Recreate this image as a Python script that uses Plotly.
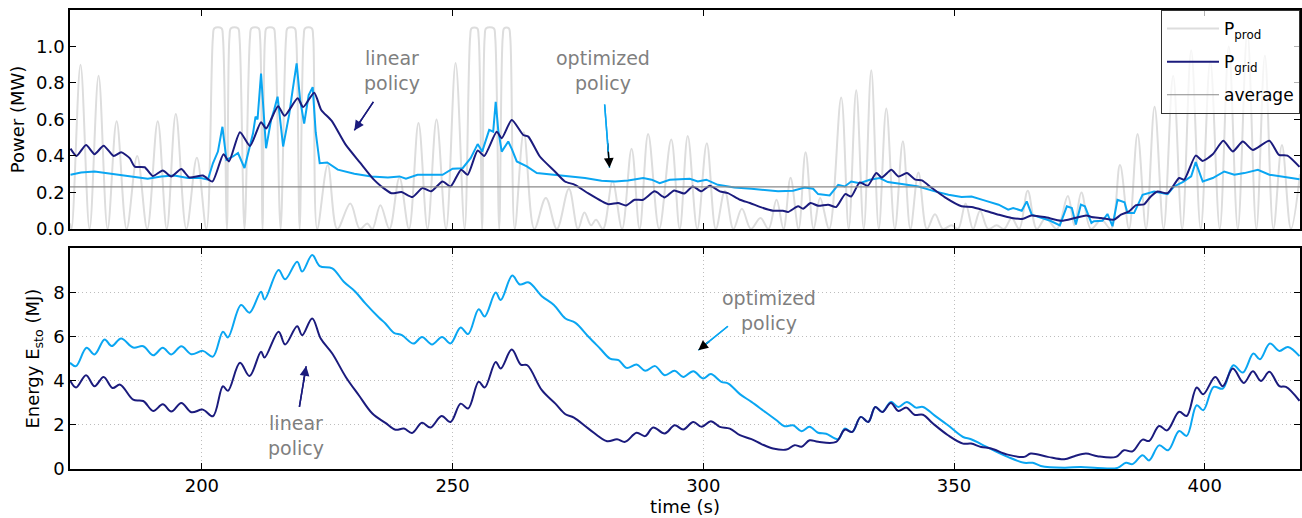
import plotly.graph_objects as go

# ---------------- data ----------------
# Produced power P_prod (MW): peaks / troughs / plateau edges
t_prod = [173.7, 174.0, 175.8, 177.6, 179.4, 181.2, 183.0, 185.0, 187.1, 189.1, 191.2, 193.0, 194.8, 196.9, 199.0, 200.9,
          202.2, 202.5, 203.9, 204.2, 205.0, 205.5, 205.8, 207.2, 207.5, 208.5, 209.6, 209.9, 211.3, 211.6, 212.1,
          212.6, 212.9, 214.3, 214.6, 215.7, 216.8, 217.1, 218.5, 218.8, 219.5, 220.3, 220.6, 221.9, 222.2, 223.0,
          225.1, 227.0, 229.6, 231.5, 233.0, 234.0, 235.6, 237.4, 239.4, 241.3, 243.2, 245.0, 246.8, 248.7, 250.6, 252.4,
          253.5, 253.8, 254.9, 255.2, 255.9, 256.4, 256.7, 258.2, 258.5, 259.3, 260.0, 260.3, 261.2, 261.5, 262.4,
          264.2, 266.3, 268.6, 270.8, 273.2, 275.0, 276.3, 277.6, 278.6, 280.0, 281.9, 283.8, 285.7, 287.3, 289.0,
          291.2, 293.6, 295.3, 296.9, 298.8, 300.7, 302.5, 304.3, 306.0, 307.7, 309.5, 311.4, 313.0, 314.6, 316.0,
          317.4, 319.0, 320.4, 322.0, 323.3, 325.1, 327.5, 329.0, 330.5, 332.0, 333.5, 335.0, 336.5, 338.2, 339.8,
          341.3, 342.9, 344.6, 346.2, 347.8, 349.5, 350.8, 352.3, 353.8, 355.2, 356.8, 358.5, 360.0, 361.5, 363.0,
          364.7, 366.5, 368.3, 370.5, 372.7, 374.0, 375.4, 377.3, 379.4, 381.3, 383.1, 384.9, 386.6, 388.3, 390.0,
          391.8, 393.7, 395.5, 397.3, 399.2, 401.1, 403.0, 404.8, 406.6, 408.5, 410.3, 412.0, 413.7, 415.4, 417.2, 419.0]
p_prod = [0.03, 0.0, 0.90, 0.0, 0.84, 0.0, 0.59, 0.0, 0.40, 0.0, 0.59, 0.0, 0.63, 0.0, 0.39, 0.0,
          1.05, 1.1, 1.1, 1.05, 0.0, 1.05, 1.1, 1.1, 1.05, 0.0, 1.05, 1.1, 1.1, 1.05, 0.0,
          1.05, 1.1, 1.1, 1.05, 0.0, 1.05, 1.1, 1.1, 1.05, 0.0, 1.05, 1.1, 1.1, 1.05, 0.0,
          0.35, 0.0, 0.14, 0.0, 0.03, 0.0, 0.13, 0.0, 0.28, 0.0, 0.58, 0.0, 0.60, 0.0, 0.91, 0.0,
          1.05, 1.1, 1.1, 1.05, 0.0, 1.05, 1.1, 1.1, 1.05, 0.0, 1.05, 1.1, 1.1, 1.05, 0.0,
          0.53, 0.0, 0.17, 0.0, 0.22, 0.0, 0.09, 0.02, 0.05, 0.0, 0.26, 0.0, 0.44, 0.0, 0.52,
          0.0, 0.49, 0.0, 0.51, 0.0, 0.47, 0.0, 0.21, 0.0, 0.11, 0.0, 0.06, 0.0, 0.16, 0.0,
          0.28, 0.0, 0.42, 0.0, 0.17, 0.0, 0.72, 0.0, 0.76, 0.0, 0.87, 0.0, 0.66, 0.0, 0.48,
          0.0, 0.31, 0.0, 0.08, 0.0, 0.02, 0.0, 0.14, 0.0, 0.10, 0.0, 0.02, 0.0, 0.06, 0.0,
          0.21, 0.0, 0.06, 0.0, 0.18, 0.02, 0.20, 0.0, 0.05, 0.0, 0.35, 0.0, 0.52, 0.0, 0.67,
          0.0, 0.84, 0.0, 0.98, 0.0, 0.92, 0.0, 1.0, 0.0, 1.08, 0.0, 0.95, 0.0, 0.46, 0.0, 0.30]

average_power = 0.231

# Grid power, linear policy (MW)
t_lin_pow = [173.8, 175.0, 176.9, 178.6, 180.4, 182.4, 183.9, 185.6, 186.6, 188.6, 190.2, 192.2, 193.9, 195.9, 197.5,
             200.2, 202.1, 204.3, 205.4, 207.6, 209.6, 211.8, 212.8, 215.2, 216.5, 219.1, 220.2, 222.4, 223.8, 225.9,
             228.6, 231.5, 234.3, 235.8, 237.8, 239.8, 242.0, 244.0, 245.7, 248.0, 249.6, 251.7, 253.0, 255.0, 256.3,
             258.8, 259.8, 261.8, 264.1, 265.1, 267.4, 270.4, 272.4, 274.4, 277.0, 281.0, 283.0, 284.6, 286.3, 288.0,
             290.3, 292.3, 294.2, 296.2, 297.9, 299.6, 301.3, 303.3, 304.9, 307.3, 309.3, 311.6, 313.9, 315.9, 316.9,
             318.9, 319.9, 321.4, 322.9, 324.9, 326.5, 328.3, 329.5, 331.2, 332.8, 334.5, 335.6, 337.5, 338.9, 340.6,
             342.3, 343.6, 345.6, 348.2, 351.5, 353.5, 356.2, 358.9, 361.5, 363.8, 365.4, 368.1, 371.4, 374.1, 376.4,
             377.4, 379.3, 381.9, 383.3, 384.9, 386.3, 387.9, 389.2, 390.6, 392.6, 394.9, 395.9, 398.2, 399.6, 401.6,
             403.7, 405.6, 407.6, 409.6, 412.9, 414.8, 416.5, 418.9]
p_lin = [0.44, 0.40, 0.46, 0.41, 0.456, 0.40, 0.42, 0.388, 0.342, 0.338, 0.29, 0.32, 0.288, 0.328, 0.282,
         0.293, 0.26, 0.41, 0.37, 0.53, 0.455, 0.585, 0.55, 0.672, 0.62, 0.716, 0.668, 0.747, 0.652, 0.592,
         0.465, 0.365, 0.27, 0.233, 0.196, 0.202, 0.175, 0.224, 0.206, 0.26, 0.233, 0.325, 0.297, 0.43, 0.40,
         0.533, 0.497, 0.597, 0.515, 0.506, 0.397, 0.315, 0.26, 0.242, 0.196, 0.136, 0.142, 0.129, 0.16, 0.16,
         0.206, 0.173, 0.211, 0.194, 0.233, 0.206, 0.237, 0.206, 0.196, 0.16, 0.142, 0.118, 0.10, 0.10, 0.093,
         0.124, 0.111, 0.142, 0.127, 0.133, 0.12, 0.191, 0.178, 0.255, 0.237, 0.306, 0.282, 0.324, 0.288, 0.306,
         0.27, 0.266, 0.224, 0.173, 0.124, 0.12, 0.10, 0.078, 0.06, 0.056, 0.074, 0.065, 0.045, 0.06, 0.074,
         0.066, 0.06, 0.051, 0.078, 0.096, 0.131, 0.135, 0.177, 0.205, 0.196, 0.279, 0.27, 0.402, 0.373, 0.409,
         0.483, 0.425, 0.479, 0.433, 0.483, 0.406, 0.402, 0.34]

# Grid power, optimized policy (MW)
t_opt_pow = [173.8, 175.9, 178.6, 181.9, 184.2, 186.6, 189.2, 191.9, 194.5, 197.2, 199.8, 201.2, 202.2, 203.2, 204.1,
             204.9, 206.2, 207.2, 208.5, 210.2, 210.7, 211.1, 211.8, 212.8, 213.8, 214.4, 215.1, 216.2, 217.4, 218.1,
             218.9, 219.6, 220.4, 221.3, 222.1, 222.7, 223.5, 225.0, 227.1, 230.4, 233.8, 237.1, 239.4, 240.7, 243.0,
             245.7, 248.0, 250.0, 252.0, 253.6, 255.0, 255.9, 257.3, 258.1, 258.6, 259.1, 259.8, 261.1, 261.8, 262.8,
             264.8, 266.8, 269.7, 273.1, 276.4, 279.7, 282.4, 285.0, 288.0, 289.7, 291.3, 293.3, 296.2, 297.3, 298.9,
             300.6, 302.9, 306.2, 309.6, 312.5, 314.9, 317.9, 320.2, 321.9, 322.9, 325.2, 326.9, 328.2, 329.5, 331.2,
             333.2, 335.2, 336.8, 339.6, 342.9, 346.2, 348.9, 351.5, 353.5, 356.2, 358.9, 360.8, 361.8, 363.5, 364.5,
             365.5, 367.5, 369.2, 371.1, 372.5, 373.5, 374.3, 375.3, 376.1, 377.4, 377.9, 379.6, 380.6, 381.6, 382.6,
             384.0, 384.6, 385.9, 387.6, 389.9, 392.6, 393.9, 395.6, 397.3, 398.2, 399.6, 401.6, 403.9, 405.9, 407.9,
             410.6, 412.9, 415.2, 418.9]
p_opt = [0.297, 0.309, 0.315, 0.302, 0.291, 0.284, 0.275, 0.288, 0.293, 0.279, 0.279, 0.27, 0.36, 0.424, 0.56,
         0.379, 0.397, 0.416, 0.334, 0.524, 0.616, 0.60, 0.852, 0.442, 0.597, 0.652, 0.725, 0.452, 0.625, 0.761,
         0.907, 0.706, 0.578, 0.734, 0.777, 0.53, 0.36, 0.364, 0.325, 0.302, 0.288, 0.282, 0.288, 0.275, 0.297,
         0.297, 0.297, 0.33, 0.333, 0.388, 0.465, 0.424, 0.543, 0.533, 0.697, 0.543, 0.424, 0.479, 0.439, 0.37,
         0.343, 0.306, 0.297, 0.288, 0.279, 0.264, 0.26, 0.266, 0.279, 0.27, 0.251, 0.27, 0.275, 0.275, 0.26,
         0.27, 0.242, 0.227, 0.22, 0.211, 0.206, 0.209, 0.227, 0.22, 0.191, 0.184, 0.242, 0.233, 0.26, 0.251,
         0.27, 0.279, 0.257, 0.246, 0.233, 0.206, 0.187, 0.175, 0.178, 0.155, 0.133, 0.106, 0.115, 0.10, 0.151,
         0.078, 0.06, 0.045, 0.02, 0.124, 0.115, 0.024, 0.133, 0.124, 0.033, 0.042, 0.045, 0.082, 0.015, 0.16,
         0.146, 0.087, 0.087, 0.187, 0.205, 0.191, 0.233, 0.257, 0.288, 0.366, 0.26, 0.279, 0.315, 0.297, 0.306,
         0.324, 0.297, 0.288, 0.272]

# Stored energy, linear policy (MJ)
t_lin_e = [173.7, 174.9, 176.9, 178.6, 180.4, 182.2, 183.7, 186.3, 188.3, 190.3, 192.2, 193.9, 195.9, 197.9, 200.2,
           202.2, 204.2, 205.2, 207.6, 209.5, 211.8, 212.5, 215.3, 216.6, 219.0, 220.0, 222.0, 223.7, 226.0, 228.7,
           231.3, 234.0, 236.6, 238.6, 240.3, 241.9, 243.9, 245.6, 247.8, 249.6, 251.6, 253.1, 255.2, 256.4, 258.6,
           259.6, 261.8, 263.6, 264.9, 267.8, 270.5, 272.5, 274.2, 277.1, 280.8, 282.8, 284.4, 286.7, 288.4, 290.0,
           292.3, 294.3, 296.0, 298.0, 299.7, 301.5, 303.3, 305.3, 307.3, 309.6, 311.6, 313.9, 316.6, 318.2, 319.6,
           321.2, 322.9, 326.5, 328.2, 329.7, 331.4, 332.9, 334.3, 335.7, 337.4, 338.9, 340.5, 342.1, 343.8, 345.8,
           348.8, 351.8, 353.4, 355.4, 357.4, 360.7, 364.0, 365.3, 368.7, 372.0, 374.0, 376.3, 378.6, 382.3, 383.9,
           385.6, 387.6, 388.9, 390.9, 392.5, 394.9, 396.4, 398.4, 399.7, 402.1, 403.6, 405.6, 407.8, 409.6, 411.2,
           412.9, 414.9, 416.2, 418.9]
e_lin = [4.02, 3.69, 4.25, 3.75, 4.17, 3.67, 3.82, 3.14, 3.08, 2.63, 2.93, 2.60, 2.99, 2.57, 2.69,
         2.39, 3.75, 3.54, 4.81, 4.21, 5.31, 5.05, 6.22, 5.64, 6.47, 6.06, 6.82, 5.91, 5.23, 4.17,
         3.34, 2.51, 2.09, 1.78, 1.83, 1.63, 2.09, 1.88, 2.40, 2.13, 2.96, 2.74, 3.95, 3.69, 4.85,
         4.55, 5.41, 4.73, 4.70, 3.57, 2.96, 2.48, 2.33, 1.83, 1.26, 1.35, 1.23, 1.64, 1.49, 1.88,
         1.61, 1.98, 1.79, 2.13, 1.91, 2.16, 1.91, 1.83, 1.53, 1.35, 1.13, 0.93, 0.88, 1.08, 1.01,
         1.30, 1.23, 1.23, 1.78, 1.68, 2.36, 2.13, 2.81, 2.58, 2.99, 2.63, 2.78, 2.46, 2.46, 2.06,
         1.53, 1.15, 1.15, 1.00, 0.93, 0.65, 0.55, 0.70, 0.55, 0.44, 0.58, 0.70, 0.58, 0.55, 0.85,
         0.80, 1.33, 1.27, 1.95, 1.75, 2.59, 2.40, 3.69, 3.39, 4.17, 3.75, 4.55, 3.90, 4.43, 3.99,
         4.40, 3.75, 3.72, 3.09]

# Stored energy, optimized policy (MJ)
t_opt_e = [173.7, 174.9, 177.0, 178.6, 180.6, 182.0, 183.9, 186.3, 188.3, 190.3, 192.2, 193.9, 195.9, 197.9, 200.2,
           202.2, 204.2, 205.2, 207.8, 209.5, 211.8, 212.5, 215.3, 216.6, 219.0, 220.0, 222.0, 223.5, 226.0, 228.3,
           230.6, 232.6, 235.3, 236.6, 238.3, 239.9, 242.2, 243.9, 245.9, 247.9, 249.6, 251.6, 253.1, 255.2, 256.4,
           258.6, 259.6, 261.9, 263.4, 265.2, 267.8, 270.2, 272.5, 274.5, 277.1, 279.4, 281.4, 283.1, 284.7, 286.7,
           288.4, 290.4, 292.3, 294.3, 296.0, 298.0, 300.0, 301.5, 303.6, 305.0, 307.3, 309.6, 312.3, 314.6, 316.2,
           317.9, 319.6, 321.2, 322.9, 324.5, 326.9, 328.2, 329.7, 331.4, 332.9, 334.3, 335.7, 337.4, 338.9, 340.6,
           342.4, 343.8, 346.1, 348.8, 351.8, 353.4, 355.4, 358.1, 360.7, 364.0, 365.7, 367.3, 372.0, 375.3, 378.6,
           382.6, 384.3, 385.6, 387.6, 388.9, 390.9, 392.7, 394.9, 396.4, 398.4, 399.7, 401.8, 403.6, 405.7, 407.6,
           409.7, 411.0, 413.0, 414.9, 416.6, 418.9]
e_opt = [4.81, 4.66, 5.49, 5.19, 5.87, 5.57, 5.91, 5.50, 5.56, 5.15, 5.49, 5.19, 5.56, 5.20, 5.35,
         5.09, 6.22, 5.96, 7.43, 7.08, 8.03, 7.68, 9.01, 8.59, 9.39, 8.94, 9.69, 9.19, 9.09, 8.48,
         8.03, 7.50, 6.86, 6.59, 6.17, 6.06, 5.68, 5.98, 5.64, 5.98, 5.69, 6.41, 6.11, 7.24, 6.91,
         7.99, 7.65, 8.76, 8.36, 8.45, 7.83, 7.43, 6.82, 6.62, 5.99, 5.46, 5.00, 4.93, 4.58, 4.73,
         4.45, 4.66, 4.25, 4.45, 4.17, 4.43, 4.10, 4.30, 3.95, 3.87, 3.39, 3.04, 2.59, 2.21, 1.94,
         1.98, 1.71, 1.91, 1.64, 1.60, 1.35, 1.83, 1.68, 2.36, 2.13, 2.81, 2.58, 3.04, 2.81, 3.04,
         2.78, 2.81, 2.43, 1.98, 1.45, 1.35, 1.13, 0.82, 0.55, 0.28, 0.28, 0.14, 0.06, 0.09, 0.05,
         0.05, 0.28, 0.22, 0.62, 0.39, 1.07, 0.85, 1.72, 1.50, 2.89, 2.66, 3.72, 3.64, 4.70, 4.37,
         5.23, 4.97, 5.68, 5.35, 5.53, 5.11]

x_ticks = [200, 250, 300, 350, 400]
power_ticks = [0.0, 0.2, 0.4, 0.6, 0.8, 1.0]
energy_ticks = [0, 2, 4, 6, 8]

# ---------------- styles ----------------
NAVY = "#1b1b7d"
SKY = "#0aa6f2"
PROD = "#dddddd"
AVG = "#8a8a8a"
NOTE = "#7f7f7f"
FONT = "DejaVu Sans"

fig = go.Figure()

fig.add_trace(go.Scatter(x=t_prod, y=p_prod, mode="lines", name="P<sub>prod</sub>", legendgroup="a",
                         line=dict(color=PROD, width=2, shape="spline", smoothing=1.0),
                         xaxis="x", yaxis="y"))
fig.add_trace(go.Scatter(x=t_opt_pow, y=p_opt, mode="lines", showlegend=False,
                         line=dict(color=SKY, width=2), xaxis="x", yaxis="y"))
fig.add_trace(go.Scatter(x=t_lin_pow, y=p_lin, mode="lines", name="P<sub>grid</sub>", legendgroup="b",
                         line=dict(color=NAVY, width=2, shape="spline", smoothing=0.6),
                         xaxis="x", yaxis="y"))
fig.add_trace(go.Scatter(x=[t_prod[0], t_prod[-1]], y=[average_power, average_power], mode="lines",
                         name="average", legendgroup="c", line=dict(color=AVG, width=1.2), xaxis="x", yaxis="y"))

fig.add_trace(go.Scatter(x=t_opt_e, y=e_opt, mode="lines", showlegend=False,
                         line=dict(color=SKY, width=2, shape="spline", smoothing=1.0),
                         xaxis="x2", yaxis="y2"))
fig.add_trace(go.Scatter(x=t_lin_e, y=e_lin, mode="lines", showlegend=False,
                         line=dict(color=NAVY, width=2, shape="spline", smoothing=1.0),
                         xaxis="x2", yaxis="y2"))

axis_common = dict(showline=True, linecolor="black", linewidth=1.5, mirror="ticks",
                   ticks="inside", ticklen=6, tickwidth=1.2, tickcolor="black",
                   tickfont=dict(family=FONT, size=18, color="black"), zeroline=False)

fig.update_layout(
    width=1302, height=518,
    margin=dict(l=70, r=2, t=10, b=49, autoexpand=False),
    paper_bgcolor="white", plot_bgcolor="white",
    font=dict(family=FONT, size=18, color="black"),
    xaxis=dict(domain=[0, 1], anchor="y", range=[173.7, 419], tickvals=x_ticks,
               showticklabels=False, showgrid=False, matches="x2", **axis_common),
    yaxis=dict(domain=[0.523, 1.0], anchor="x", range=[0, 1.2], tickvals=power_ticks,
               tickformat=".1f", showgrid=False,
               title=dict(text="Power (MW)", font=dict(family=FONT, size=18), standoff=7),
               **axis_common),
    xaxis2=dict(domain=[0, 1], anchor="y2", range=[173.7, 419], tickvals=x_ticks,
                showgrid=True, gridcolor="#bdbdbd", griddash="1px,3px", gridwidth=1,
                title=dict(text="time (s)", font=dict(family=FONT, size=18), standoff=3),
                **axis_common),
    yaxis2=dict(domain=[0, 0.481], anchor="x2", range=[0, 10], tickvals=energy_ticks,
                showgrid=True, gridcolor="#bdbdbd", griddash="1px,3px", gridwidth=1,
                title=dict(text="Energy E<sub>sto</sub> (MJ)", font=dict(family=FONT, size=18), standoff=9),
                **axis_common),
    legend=dict(x=1, y=1, xanchor="right", yanchor="top", bgcolor="rgba(255,255,255,0.7)",
                bordercolor="#333333", borderwidth=1, font=dict(family=FONT, size=17, color="black"),
                itemwidth=52, traceorder="grouped", tracegroupgap=8),
)

# ---------------- annotations ----------------
def arrow(xh, yh, xt, yt, color, xr, yr):
    # coloured shaft
    fig.add_annotation(x=xh, y=yh, ax=xt, ay=yt, xref=xr, yref=yr, axref=xr, ayref=yr,
                       text="", showarrow=True, arrowhead=0, arrowwidth=1.5, arrowcolor=color)
    # dark head
    fig.add_annotation(x=xh, y=yh, ax=xh + (xt - xh) * 0.4, ay=yh + (yt - yh) * 0.4,
                       xref=xr, yref=yr, axref=xr, ayref=yr, text="", showarrow=True,
                       arrowhead=2, arrowsize=1.3, arrowwidth=1.5,
                       arrowcolor="black" if color != NAVY else NAVY)
    # re-draw the coloured part of the shaft that the head annotation covered
    fig.add_annotation(x=xh + (xt - xh) * 0.25, y=yh + (yt - yh) * 0.25, ax=xt, ay=yt,
                       xref=xr, yref=yr, axref=xr, ayref=yr,
                       text="", showarrow=True, arrowhead=0, arrowwidth=1.5, arrowcolor=color)

note_font = dict(family=FONT, size=19, color=NOTE)
fig.add_annotation(x=237.9, y=0.87, xref="x", yref="y", text="linear<br>policy", showarrow=False, font=note_font)
arrow(230.4, 0.54, 234.4, 0.705, NAVY, "x", "y")
fig.add_annotation(x=279.9, y=0.87, xref="x", yref="y", text="optimized<br>policy", showarrow=False, font=note_font)
arrow(281.3, 0.335, 280.3, 0.69, SKY, "x", "y")
fig.add_annotation(x=313.2, y=7.19, xref="x2", yref="y2", text="optimized<br>policy", showarrow=False, font=note_font)
arrow(299.0, 5.38, 305.2, 6.52, SKY, "x2", "y2")
fig.add_annotation(x=218.8, y=1.53, xref="x2", yref="y2", text="linear<br>policy", showarrow=False, font=note_font)
arrow(220.8, 4.66, 219.4, 2.75, NAVY, "x2", "y2")

fig.write_html("out.html", config={"displayModeBar": False},
               post_script="document.body.style.margin='0';document.body.style.overflow='hidden';")
